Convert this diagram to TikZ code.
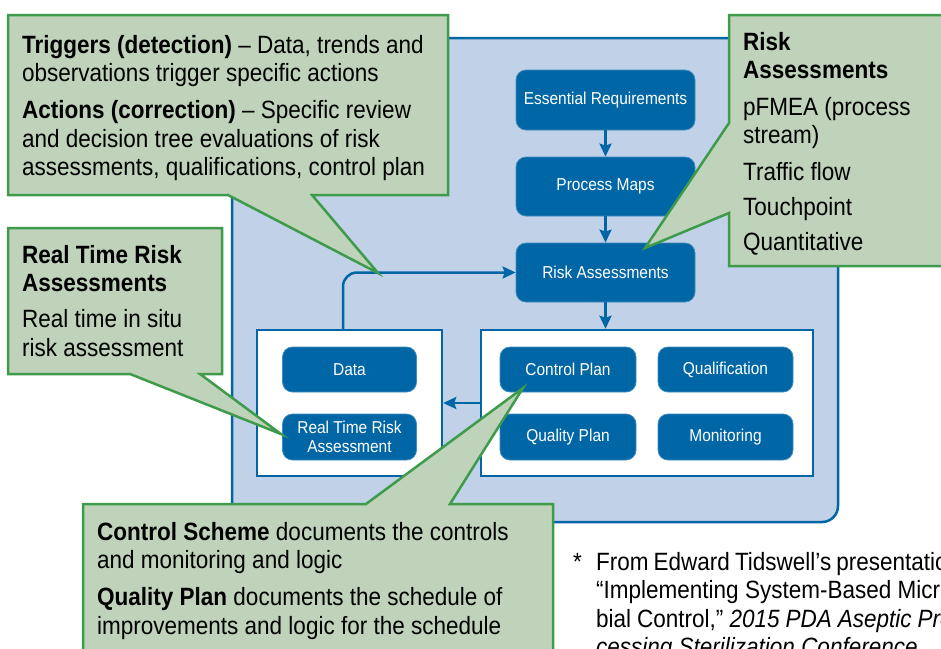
\documentclass[tikz,border=0pt]{standalone}
\usepackage{fontspec}
\setmainfont{Liberation Sans}[FakeStretch=0.9]
\usetikzlibrary{arrows.meta}
\definecolor{panelblue}{RGB}{193,209,231}
\definecolor{deepblue}{RGB}{0,102,166}
\definecolor{notegreen}{RGB}{190,211,185}
\definecolor{noteedge}{RGB}{62,155,76}
\tikzset{
  box/.style={fill=deepblue, draw=deepblue!75!white, line width=0.8pt, rounded corners=10pt,
    text=white, font=\fontsize{17.2}{18.5}\selectfont, align=center, inner sep=0pt},
  holder/.style={fill=white, draw=deepblue, line width=2.5pt, inner sep=0pt},
  flow/.style={draw=deepblue, line width=2.5pt, -{Stealth[length=13pt,width=12pt,inset=2pt]}},
  note/.style={fill=notegreen, draw=noteedge, line width=2.5pt, line join=miter},
  notetext/.style={anchor=base west, inner sep=0pt, font=\fontsize{25}{28.5}\selectfont},
}
\begin{document}
\begin{tikzpicture}[x=1pt, y=-1pt]
\useasboundingbox (0,0) rectangle (941,648);
\clip (0,0) rectangle (941,648);

% light blue process panel
\draw[fill=panelblue, draw=deepblue, line width=2.5pt, rounded corners=16pt]
  (232,38) rectangle (838,522);

% main flow
\node[box, minimum width=179pt, minimum height=60pt] (req) at (605.5,100) {Essential Requirements};
\node[box, minimum width=179pt, minimum height=59pt] (maps) at (605.5,186.5) {Process Maps};
\node[box, minimum width=179pt, minimum height=59pt] (risk) at (605.5,272.5) {Risk Assessments};

% containers
\node[holder, minimum width=185pt, minimum height=146pt] (left) at (349.5,403) {};
\node[holder, minimum width=332pt, minimum height=146pt] (right) at (647,403) {};

% boxes inside the containers
\node[box, minimum width=134pt, minimum height=45pt] (data) at (349.5,369.5) {Data};
\node[box, minimum width=134pt, minimum height=46pt] (rtra) at (349.5,437) {Real Time Risk\\Assessment};
\node[box, minimum width=136pt, minimum height=45pt] (cplan) at (568,369.5) {Control Plan};
\node[box, minimum width=135pt, minimum height=45pt] (qual) at (725.5,369.5) {Qualification};
\node[box, minimum width=136pt, minimum height=46pt] (qplan) at (568,437) {Quality Plan};
\node[box, minimum width=135pt, minimum height=46pt] (mon) at (725.5,437) {Monitoring};

% connectors
\draw[flow] (req) -- (maps);
\draw[flow] (maps) -- (risk);
\draw[flow] (risk.south) -- (risk.south |- right.north);
\draw[flow] (right.west) -- (left.east);
\draw[flow, rounded corners=14pt] ([xshift=-6.5pt]left.north) |- (risk.west);

% callout tips
\coordinate (tipA) at (378,273);
\coordinate (tipB) at (645,248);
\coordinate (tipC) at (281,434);
\coordinate (tipD) at (523,388);

% callouts
\draw[note] (8,15) -- (448,15) -- (448,195) -- (312,195) -- (tipA) -- (228,195) -- (8,195) -- cycle;
\draw[note] (729,15) -- (960,15) -- (960,266) -- (729,266) -- (729,213) -- (tipB) -- (729,123) -- cycle;
\draw[note] (8,228) -- (222,228) -- (222,374) -- (200,374) -- (tipC) -- (130,374) -- (8,374) -- cycle;
\draw[note] (83,504) -- (366,504) -- (tipD) -- (450,504) -- (553,504) -- (553,670) -- (83,670) -- cycle;

\node[notetext] (textA) at (22,53) {\parbox[t]{430pt}{\raggedright
  \textbf{Triggers (detection)} – Data, trends and\\
  observations trigger specific actions\\[8.5pt]
  \textbf{Actions (correction)} – Specific review\\
  and decision tree evaluations of risk\\
  assessments, qualifications, control plan}};

\node[notetext] (textB) at (743,50) {\parbox[t]{200pt}{\raggedright
  \textbf{Risk}\\
  \textbf{Assessments}\\[8pt]
  pFMEA (process\\
  stream)\\[8pt]
  Traffic flow\\[6.5pt]
  Touchpoint\\[6.5pt]
  Quantitative}};

\node[notetext] (textC) at (22,263) {\parbox[t]{200pt}{\raggedright
  \textbf{Real Time Risk}\\
  \textbf{Assessments}\\[7.5pt]
  Real time in situ\\
  risk assessment}};

\node[notetext] (textD) at (97,540) {\parbox[t]{450pt}{\raggedright
  \textbf{Control Scheme} documents the controls\\
  and monitoring and logic\\[8.5pt]
  \textbf{Quality Plan} documents the schedule of\\
  improvements and logic for the schedule}};

% source note, justified lines running past the right edge
\node[notetext] (star) at (573,570) {*};
\node[notetext] (source) at (596,570) {\parbox[t]{364pt}{
  \makebox[364pt][s]{From Edward Tidswell’s presentation}\\
  \makebox[364pt][s]{“Implementing System-Based Micro-}\\
  \makebox[364pt][s]{bial Control,” \textit{2015 PDA Aseptic Pro-}}\\
  \textit{cessing Sterilization Conference}}};
\end{tikzpicture}
\end{document}
